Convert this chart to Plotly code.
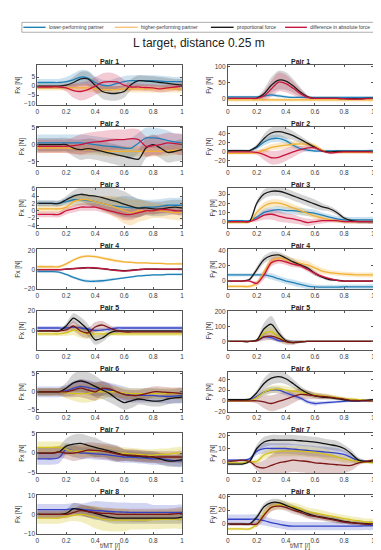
import plotly.graph_objects as go

# ---------------- data ----------------
T = [0, 0.05, 0.1, 0.15, 0.2, 0.25, 0.3, 0.35, 0.4, 0.45, 0.5, 0.55, 0.6, 0.65, 0.7, 0.75, 0.8, 0.85, 0.9, 0.95, 1]
X_TICKS = [0, 0.2, 0.4, 0.6, 0.8, 1]
X_TICKTEXT = ['0', '0.2', '0.4', '0.6', '0.8', '1']
SERIES = ['lower-performing partner', 'higher-performing partner', 'proportional force', 'difference in absolute force']
PAIRS = ['Pair 1', 'Pair 2', 'Pair 3', 'Pair 4', 'Pair 5', 'Pair 6', 'Pair 7', 'Pair 8']
TITLE = 'L target, distance 0.25 m'
X_LABEL = 't/MT [/]'

# Pair 1
fx1_low = [2, 2, 2, 2, 2.5, 3.5, 5, 4.5, 2, 0.5, 0.3, 1.5, 2.5, 3, 3, 3, 3, 2.8, 2.5, 2.5, 2.5]
fx1_low_sd = [2, 2, 2, 2, 2.5, 3.5, 4, 4, 3.5, 3, 3, 3, 3, 3, 3, 3, 3, 3, 3, 2.5, 2.5]
fx1_high = [-1, -1, -1, -1, -1, -1, -1, -1, -1.5, -2, -2, -2, -1.5, -1.5, -1.5, -1.5, -1.5, -1.5, -1.5, -1.5, -1.5]
fx1_high_sd = [1.5, 1.5, 1.5, 1.5, 1.5, 2, 2, 2, 2, 2, 2, 2, 2, 2, 2, 2, 2, 2, 2, 2, 2]
fx1_prop = [0, 0, 0, 0, 0.5, 2, 4, 4, 0.5, -3, -4, -4, -3, 1, 3, 2.8, 2.5, 2, 1.5, 1, 0.5]
fx1_prop_sd = [1.5, 1.5, 1.5, 1.5, 2, 3, 4, 4, 4, 4, 4, 4, 3.5, 3, 3, 3, 3, 3, 3, 3, 3]
fx1_diff = [-0.5, -0.5, -0.5, -0.5, -1, -2.5, -3, -2, 0, 2, 2.5, 2.3, 0.5, -0.5, -0.5, -0.8, -1, -1.5, -1, -0.5, 0]
fx1_diff_sd = [1, 1, 1, 1, 2, 4, 5, 5, 5, 5, 5, 4, 3, 2, 2, 2, 2, 2, 2, 2, 2]

fy1_low = [5, 5, 5, 5, 5, 8, 11, 8, 5, 3, 3, 3, 3, 3, 3, 3, 3, 3, 3, 3, 3]
fy1_low_sd = [3, 3, 3, 3, 3, 4, 5, 5, 4, 3, 3, 3, 3, 3, 3, 3, 3, 3, 3, 3, 3]
fy1_high = [-5, -5, -5, -5, -5, -5, -5, -5, -5, -5, -5, -5, -5, -5, -5, -5, -5, -5, -5, -5, -5]
fy1_high_sd = [5, 5, 5, 5, 5, 5, 5, 5, 5, 5, 5, 5, 5, 5, 5, 5, 5, 5, 5, 5, 5]
fy1_prop = [0, 0, 0, 0, 1, 15, 42, 58, 55, 40, 20, 5, 0, 0, 0, 0, -1, -1, -1, 0, 0]
fy1_prop_sd = [2, 2, 2, 2, 3, 15, 25, 30, 28, 22, 15, 6, 3, 3, 3, 3, 3, 3, 3, 3, 3]
fy1_diff = [0, 0, 0, 0, 0, 8, 30, 52, 47, 32, 15, 3, 0, 0, 0, 0, -1, -2, -2, -1, 0]
fy1_diff_sd = [2, 2, 2, 2, 3, 15, 25, 30, 28, 22, 15, 6, 3, 3, 3, 3, 3, 3, 3, 3, 3]

# Pair 2
fx2_low = [0.5, 0.5, 0.5, 0.5, 0.5, 0.5, 0.5, 0.3, 0, -0.3, -0.5, -0.7, -1, -1, 0.5, 2, 2, 1.8, 1.2, 0.8, 0.5]
fx2_low_sd = [2.5, 2.5, 2.5, 2.5, 2.5, 2.5, 2.5, 2.5, 2.5, 2.5, 2.5, 2.5, 2.5, 3, 3, 3, 3, 3, 3, 2.5, 2.5]
fx2_high = [-1, -1, -1, -1, -1, -1.2, -1.5, -1.5, -1.5, -1.8, -2, -2, -2, -2, -2, -2, -2, -2, -1.8, -1.6, -1.5]
fx2_high_sd = [1.5, 1.5, 1.5, 1.5, 1.5, 1.5, 1.5, 1.5, 1.5, 1.5, 1.5, 1.5, 1.5, 1.5, 1.5, 1.5, 1.5, 1.5, 1.5, 1.5, 1.5]
fx2_prop = [0, 0, 0, 0, 0, -1, -1.5, -1.2, -1.5, -2, -2.5, -3, -3.5, -4, -4.3, -1, 0, -1, -2.3, -2, -1.5]
fx2_prop_sd = [2, 2, 2, 2, 2, 2.5, 3, 3, 3, 3, 3, 3, 3, 3, 3, 3, 3, 3, 3, 3, 3]
fx2_diff = [-0.5, -0.5, -0.5, -0.5, -0.5, -0.3, 0, 0.5, 0.8, 1, 1.3, 1.5, 1.5, 1.8, 1.5, -0.5, -0.3, 0, 0.5, 0.3, 0]
fx2_diff_sd = [2, 2, 2, 2, 2, 2.5, 3, 3, 3, 3, 3, 3, 3, 3, 3, 3, 3, 3, 3, 3, 3]

fy2_low = [3, 3, 3, 3, 10, 22, 29, 30, 25, 15, 7, 4, 2, 2, 2, 2, 2, 2, 2, 2, 2]
fy2_low_sd = [3, 3, 3, 3, 5, 8, 8, 8, 7, 6, 5, 4, 3, 3, 3, 3, 3, 3, 3, 3, 3]
fy2_high = [-3, -3, -3, -3, -2, 4, 10, 13, 15, 17, 18, 17, 13, 4, -1, -1, -1, -1, -1, -1, -1]
fy2_high_sd = [3, 3, 3, 3, 4, 6, 7, 7, 7, 7, 7, 6, 5, 3, 3, 3, 3, 3, 3, 3, 3]
fy2_prop = [3, 3, 3, 3, 12, 30, 42, 45, 42, 36, 28, 19, 10, 2, 0, 1, 1, 1, 1, 1, 1]
fy2_prop_sd = [2, 2, 2, 2, 5, 10, 12, 12, 12, 10, 8, 6, 4, 3, 3, 3, 3, 3, 3, 3, 3]
fy2_diff = [0, 0, 0, 0, -1, -6, -13, -12, -6, 0, 5, 9, 9, 2, -2, -1, 0, 0, 0, 0, 0]
fy2_diff_sd = [2, 2, 2, 2, 5, 12, 15, 15, 14, 12, 8, 6, 4, 3, 3, 3, 3, 3, 3, 3, 3]

# Pair 3
fx3_low = [2, 2, 2, 2, 2.5, 3, 3, 2.8, 2.5, 2, 1.5, 1.2, 1, 0.8, 0.8, 1, 1, 1.2, 1.5, 1.5, 1.5]
fx3_low_sd = [0.8, 0.8, 0.8, 0.8, 1, 1.5, 1.5, 1.5, 1.5, 1.5, 2, 2.5, 3, 3, 2.5, 2, 2, 2, 2, 2, 2]
fx3_high = [0.5, 0.5, 0.5, 0.5, 1, 2.5, 3, 3, 2.5, 2, 1.5, 0.8, 0, -0.5, 0, 0, 0, 0, -0.3, -0.5, -0.5]
fx3_high_sd = [1, 1, 1, 1, 1, 1.5, 1.5, 1.5, 1.5, 2, 2.5, 3, 3.5, 3.5, 3, 2.5, 2, 2, 2, 2, 2]
fx3_prop = [2, 2, 2, 2, 3, 4, 4.5, 4.2, 4, 3.6, 3, 2.5, 1.8, 1.2, 0.7, 0.8, 0.5, 0.5, 0.8, 1, 0.8]
fx3_prop_sd = [0.8, 0.8, 0.8, 0.8, 1, 1.5, 2, 2.5, 3, 3.5, 3.5, 3.5, 3.5, 3, 2.5, 2, 2, 2, 2, 2, 2]
fx3_diff = [-1, -1, -1, -1, 0, 0.5, 1, 1, 1, 0.5, 0, -0.5, -1, -1, -0.5, 0, 0, 0.3, 0.3, 0, 0]
fx3_diff_sd = [0.8, 0.8, 0.8, 0.8, 1, 1, 1, 1, 1, 1, 1, 1.2, 1.5, 1.5, 1.2, 1, 1, 1, 1, 1, 1]

fy3_low = [1, 1, 1, 1, 5, 10, 12, 13, 12, 12, 11, 10, 9, 7, 5, 3, 2, 2, 2, 2, 2]
fy3_low_sd = [1, 1, 1, 1, 3, 4, 4, 4, 4, 4, 4, 4, 4, 3, 3, 3, 3, 3, 3, 3, 3]
fy3_high = [-1, -1, -1, -0.5, 10, 17, 20, 20, 18, 15, 12, 9, 6, 4, 2, 1, 0, 0, 0, 0, 0]
fy3_high_sd = [1, 1, 1, 1, 3, 4, 4, 4, 4, 4, 4, 3, 3, 3, 2, 2, 2, 2, 2, 2, 2]
fy3_prop = [0, 0, 0, 0.5, 20, 30, 33, 33, 31, 28, 25, 22, 19, 16, 14, 10, 4, 1, 0, 0, 0]
fy3_prop_sd = [1, 1, 1, 1, 3, 5, 5, 5, 5, 5, 5, 5, 5, 4, 3, 3, 2, 2, 2, 2, 2]
fy3_diff = [0, 0, 0, 0, 3, 7, 8, 6, 4, 3, 1, -1, 0, 1, 1, 1, 0, 0, 0, 0, 0]
fy3_diff_sd = [1, 1, 1, 1, 3, 5, 6, 6, 5, 5, 4, 4, 3, 3, 2, 2, 2, 2, 2, 2, 2]

# Pair 4
fx4_low = [-2, -2, -2, -2.5, -5, -8, -10.5, -12, -12, -11.5, -10.5, -9.5, -8.5, -7.5, -6.5, -6, -5.5, -5.5, -5, -5, -5]
fx4_low_sd = [1, 1, 1, 1, 1, 1.5, 1.5, 1.5, 1.5, 1.5, 1.5, 1, 1, 1, 1, 1, 1, 1, 1, 1, 1]
fx4_high = [3, 3, 3, 3, 6, 10, 13, 14, 13.5, 12, 10.5, 9, 8, 7.5, 7, 7, 6.5, 6.5, 6, 6, 6]
fx4_high_sd = [1.5, 1.5, 1.5, 1.5, 1.5, 1.5, 1.5, 1.5, 1.5, 1.5, 1.5, 1.5, 1, 1, 1, 1, 1, 1, 1, 1, 1]
fx4_prop = [0, 0, 0, 0, 0.5, 1, 1.5, 2, 1.5, 1, 0, -0.5, -1, -0.5, 0, 0.5, 0.5, 0.3, 0.3, 0.3, 0.5]
fx4_prop_sd = [1, 1, 1, 1, 1, 1, 1, 1, 1, 1, 1, 1, 1, 1, 1, 1, 1, 1, 1, 1, 1]
fx4_diff = [0, 0, 0, 0, 0.5, 1, 1.5, 2, 1.8, 1, 0, -1, -1.5, -1, 0, 0.5, 0.5, 0.5, 0.5, 0.5, 0.5]
fx4_diff_sd = [1, 1, 1, 1, 1, 1, 1, 1, 1, 1, 1, 1, 1, 1, 1, 1, 1, 1, 1, 1, 1]

fy4_low = [8, 8, 8, 8, 8, 8, 6, 3, 0, -2, -4.5, -6.5, -7.5, -8, -8, -8, -7.5, -7.5, -7.5, -7.5, -7.5]
fy4_low_sd = [2, 2, 2, 2, 2, 3, 4, 4, 4, 4, 4, 4, 3, 3, 3, 3, 3, 3, 3, 3, 3]
fy4_high = [-7, -7, -7, -7, -3, 12, 26, 30, 28, 25, 23, 21, 17, 13, 11, 10, 9, 8.5, 8, 8, 8]
fy4_high_sd = [2, 2, 2, 2, 3, 4, 5, 5, 5, 5, 5, 5, 4, 4, 3, 3, 3, 3, 3, 3, 3]
fy4_prop = [0, 0, 0, 2, 15, 28, 33, 34, 30, 25, 21, 17, 10, 5, 2, 1, 0, 0, 0, 0, 0]
fy4_prop_sd = [1, 1, 1, 2, 4, 5, 5, 4, 4, 4, 3, 3, 3, 2, 2, 1, 1, 1, 1, 1, 1]
fy4_diff = [0, 0, 0, 0, -3, 8, 24, 27, 25, 22, 20, 15, 10, 6, 3, 1, 0, 0, 0, 0, 0]
fy4_diff_sd = [1, 1, 1, 1, 3, 6, 5, 4, 4, 4, 3, 3, 3, 2, 2, 1, 1, 1, 1, 1, 1]

# Pair 5
fx5_low = [3, 3, 3, 3, 3, 4, 3, 2, 0.5, 1, 2, 3, 3, 3, 3, 3, 3, 3, 3, 3, 3]
fx5_low_sd = [2, 2, 2, 2, 2, 2, 2, 2, 2, 2, 2, 2, 2, 2, 2, 2, 2, 2, 2, 2, 2]
fx5_high = [-3, -3, -3, -3, -2, 1, -1, -3, -3, -3, -3, -3, -3, -3, -3, -3, -3, -3, -3, -3, -3]
fx5_high_sd = [2, 2, 2, 2, 3, 5, 6, 5, 4, 3, 2, 2, 2, 2, 2, 2, 2, 2, 2, 2, 2]
fx5_prop = [0, 0, 0, 0, 5, 13, 8, 1, -9, -7, -2, 0, 0, 0, 0, 0, 0, 0, 0, 0, 0]
fx5_prop_sd = [1, 1, 1, 1, 3, 5, 6, 6, 5, 4, 3, 2, 1, 1, 1, 1, 1, 1, 1, 1, 1]
fx5_diff = [0, 0, 0, 0, 1, 5, 0, -2, 4, 6, 3, 0, -1, -1, -1, -1, -1, -1, -1, -1, -1]
fx5_diff_sd = [1, 1, 1, 1, 3, 5, 5, 5, 5, 4, 3, 2, 1, 1, 1, 1, 1, 1, 1, 1, 1]

fy5_low = [0, 0, 0, 0, 5, 30, 25, 5, 0, 0, 0, 0, 0, 0, 0, 0, 0, 0, 0, 0, 0]
fy5_low_sd = [2, 2, 2, 2, 5, 15, 15, 8, 4, 3, 2, 2, 2, 2, 2, 2, 2, 2, 2, 2, 2]
fy5_high = [0, 0, 0, 0, 8, 55, 65, 30, 0, -5, 0, 0, 0, 0, 0, 0, 0, 0, 0, 0, 0]
fy5_high_sd = [2, 2, 2, 2, 8, 30, 35, 25, 15, 10, 5, 3, 2, 2, 2, 2, 2, 2, 2, 2, 2]
fy5_prop = [0, 0, 0, 0, 10, 85, 115, 55, 5, -8, -3, 0, 0, 0, 0, 0, 0, 0, 0, 0, 0]
fy5_prop_sd = [2, 2, 2, 2, 10, 40, 55, 35, 15, 10, 5, 3, 2, 2, 2, 2, 2, 2, 2, 2, 2]
fy5_diff = [0, 0, 0, 0, 5, 30, 35, 20, -2, -8, -3, 0, 0, 0, 0, 0, 0, 0, 0, 0, 0]
fy5_diff_sd = [2, 2, 2, 2, 8, 25, 25, 25, 20, 15, 8, 3, 2, 2, 2, 2, 2, 2, 2, 2, 2]

# Pair 6
fx6_low = [0, 0, 0, 0, 0.3, 1, 1.5, 1.2, 0.8, 0.8, 0.5, 0, -0.5, -1, -1, -1, -1, -1.2, -1.3, -1.2, -1]
fx6_low_sd = [1.5, 1.5, 1.5, 1.5, 1.5, 2, 2, 2, 2, 2, 2, 2, 2, 2, 2, 2, 2, 2, 2, 2, 2]
fx6_high = [0, 0, 0, 0, -0.3, -0.5, -0.5, -0.5, 0, 0, 0, 0, -0.3, -0.5, -0.5, -0.5, -0.5, -0.5, -0.5, -0.5, -0.5]
fx6_high_sd = [1, 1, 1, 1, 1.5, 2, 2.5, 2.5, 2.5, 2, 1.5, 1.5, 1.5, 1.5, 1.5, 1.5, 1.5, 1.5, 1.5, 1.5, 1.5]
fx6_prop = [0, 0, 0, 0, 1, 2.5, 3, 2.5, 1.5, 0.5, -0.5, -2, -3, -2.5, -2, -2.3, -2.6, -2.5, -2, -1.7, -1.5]
fx6_prop_sd = [1, 1, 1, 1, 1.5, 2.5, 3, 3, 3, 2.5, 2.5, 2, 2, 2, 1.5, 1.5, 1.5, 1.5, 1.5, 1.5, 1.5]
fx6_diff = [0, 0, 0, 0, 0, 0.5, 1, 0.5, 0, 1, 0.8, 0, -0.8, -1, -1, -0.5, 0, 0, -0.2, -0.3, -0.5]
fx6_diff_sd = [1, 1, 1, 1, 1.5, 2, 2.5, 2.5, 2.5, 2, 1.5, 1.5, 1.5, 1.5, 1.5, 1.5, 1.5, 1.5, 1.5, 1.5, 1.5]

fy6_low = [2, 2, 2, 2, 8, 16, 20, 20, 15, 10, 5, -2, -5, -4, -3, -2, -1, 0, 0, 0.5, 1]
fy6_low_sd = [2, 2, 2, 2, 4, 6, 6, 6, 5, 5, 4, 4, 4, 3, 3, 2, 2, 2, 2, 2, 2]
fy6_high = [0, 0, 0, 0, 6, 16, 21, 22, 20, 18, 16, 13, 11, 9, 8, 6, 4, 3, 2, 1, 0]
fy6_high_sd = [2, 2, 2, 2, 4, 6, 7, 7, 7, 7, 6, 6, 5, 5, 4, 4, 3, 3, 2, 2, 2]
fy6_prop = [2, 2, 2, 3, 15, 32, 42, 45, 41, 32, 22, 14, 9, 7, 6, 4, 2, 0, 0, 1, 2]
fy6_prop_sd = [2, 2, 2, 2, 5, 10, 12, 12, 10, 8, 6, 5, 4, 4, 3, 3, 3, 2, 2, 2, 2]
fy6_diff = [0, 0, 0, 0, 0, -2, -5, -1, 3, 8, 12, 11, 9, 8, 7, 5, 3, 1, 0.5, 0, 0]
fy6_diff_sd = [2, 2, 2, 2, 5, 12, 15, 15, 14, 12, 10, 8, 6, 5, 4, 3, 3, 2, 2, 2, 2]

# Pair 7
fx7_low = [-1.5, -1.5, -1.5, -1.2, 1, 0.5, 0, 0, -0.2, -0.3, -0.5, -0.8, -1, -1, -1.2, -1.3, -1.5, -1.5, -1.7, -2, -2]
fx7_low_sd = [1.5, 1.5, 1.5, 1.5, 1.5, 1.5, 1.5, 1.5, 1.5, 1.5, 1.5, 1.5, 1.5, 1.5, 1.5, 1.5, 1.5, 1.5, 1.5, 1.5, 1.5]
fx7_high = [1.5, 1.5, 1.5, 1.5, 1, 0.5, 0.5, 0.5, 0.5, 0.5, 0.3, 0, 0, -0.2, -0.3, -0.5, -0.5, -0.3, -0.3, 0, 0]
fx7_high_sd = [1.5, 1.5, 1.5, 1.5, 1.5, 1.5, 1.5, 1.5, 1.5, 1.5, 1.5, 1.5, 1.5, 1.5, 1.5, 1.5, 1.5, 1.5, 1.5, 1.5, 1.5]
fx7_prop = [0, 0, 0, 0.3, 1.8, 2.3, 2.5, 2, 1.5, 1, 0.5, 0, -0.5, -0.7, -0.8, -1, -1, -1.5, -2, -2, -1.7]
fx7_prop_sd = [1.5, 1.5, 1.5, 1.5, 2, 2.5, 2.5, 2.5, 2.5, 2, 2, 2, 1.5, 1.5, 1.5, 1.5, 1.5, 1.5, 1.5, 1.5, 1.5]
fx7_diff = [0, 0, 0, 0.3, 0, 0, 0.3, 0.8, 0.7, 0.5, 0.2, -0.2, -0.5, -0.5, -0.7, -0.8, -1, -1, -1, -1, -1]
fx7_diff_sd = [1.5, 1.5, 1.5, 1.5, 1.5, 2, 2, 2, 2, 2, 2, 2, 1.5, 1.5, 1.5, 1.5, 1.5, 1.5, 1.5, 1.5, 1.5]

fy7_low = [1, 1, 1, 2, 8, 10, 10, 10, 10, 9.5, 9, 8.5, 8, 7.5, 7, 6.5, 5.5, 3, 0.5, 0, 0]
fy7_low_sd = [1, 1, 1, 1, 3, 4, 4, 4, 4, 4, 4, 4, 4, 4, 4, 4, 3, 3, 2, 1, 1]
fy7_high = [-1, -1, -1, 0, 0, 5, 7, 8, 8, 8, 8, 7.5, 7, 6, 5, 3.5, 2, 1, 0, -0.5, -1]
fy7_high_sd = [1, 1, 1, 1, 2, 3, 4, 4, 4, 4, 4, 4, 4, 4, 4, 3, 3, 2, 2, 1, 1]
fy7_prop = [-2, -2, -2, 0, 10, 15, 16.5, 16.5, 16.5, 16.5, 16, 15.5, 15, 14, 13, 12, 10, 6, 1, 0, 0]
fy7_prop_sd = [1, 1, 1, 1, 3, 4, 4, 4, 4, 4, 4, 4, 4, 4, 4, 4, 3, 3, 2, 1, 1]
fy7_diff = [0, 0.5, 1, 0, -4, -5, -3, -1, 0, 1, 0.5, 0, -1, -1.5, -2, -2.5, -3, -3, -1, 0, 1]
fy7_diff_sd = [1, 1, 1, 1, 3, 6, 8, 9, 9, 9, 9, 9, 9, 8, 8, 7, 6, 4, 2, 1, 1]

# Pair 8
fx8_low = [2.5, 2.5, 2.5, 2.5, 2.5, 3, 2.7, 2.3, 2, 1.8, 1.5, 1.3, 1.2, 1, 1, 1, 1, 1, 1, 1, 1]
fx8_low_sd = [3, 3, 3, 3, 3, 3, 3, 4, 5, 5, 5, 5, 5, 5, 5, 5, 4, 4, 4, 4, 4]
fx8_high = [-2, -2, -2, -2, -1, -0.5, 0, -0.5, -1.5, -2.5, -3, -3, -3, -3, -3, -3, -2.8, -2.7, -2.6, -2.5, -2.5]
fx8_high_sd = [3, 3, 3, 3, 3, 3, 4, 5, 6, 6, 6, 6, 6, 5, 5, 5, 5, 5, 5, 5, 5]
fx8_prop = [0, 0, 0, 0, 0.5, 3, 2.5, 1.5, 0.5, -0.5, -1.5, -2, -2, -2, -2, -2, -2, -2, -2, -2, -1.5]
fx8_prop_sd = [2, 2, 2, 2, 2, 3, 3, 3, 3, 3, 3, 3, 3, 3, 3, 3, 3, 3, 3, 3, 3]
fx8_diff = [0, 0, 0, 0, 0, 1, 2, 1.5, 1, 0.5, 0.5, 0, 0, 0, 0, 0, 0, 0, 0, 0.3, 0.5]
fx8_diff_sd = [2, 2, 2, 2, 2, 2, 3, 3, 3, 3, 3, 3, 3, 3, 3, 3, 3, 3, 3, 3, 3]

fy8_low = [7, 7, 7, 7, 7, 5, 2, 0, -2, -3, -3, -3, -3, -3, -3, -3, -3, -3, -3, -2.5, -2]
fy8_low_sd = [7, 7, 7, 7, 7, 7, 6, 6, 6, 6, 6, 6, 6, 6, 6, 6, 6, 6, 6, 6, 6]
fy8_high = [-7, -7, -7, -7, 0, 15, 25, 28, 27, 25, 22, 18, 16, 14, 12, 10, 8, 6, 5, 3, 2]
fy8_high_sd = [2, 2, 2, 2, 4, 6, 6, 6, 6, 6, 6, 6, 6, 6, 5, 5, 5, 5, 5, 5, 5]
fy8_prop = [0, 0, 0, 0, 10, 25, 31, 31, 27, 23, 19, 15, 12, 10, 8, 6, 4, 2, 1, 0.5, 0]
fy8_prop_sd = [2, 2, 2, 2, 4, 5, 5, 5, 5, 5, 5, 5, 5, 4, 4, 4, 3, 3, 3, 3, 3]
fy8_diff = [0, 0, 0, 0, 0, 13, 24, 26, 24, 20, 17, 13, 11, 9, 7, 5, 3, 2, 1, 0, 0]
fy8_diff_sd = [2, 2, 2, 2, 4, 7, 6, 5, 5, 5, 5, 5, 5, 4, 4, 4, 3, 3, 3, 3, 3]

# y-axis tick values for each panel
FX_TICKS = [[-10, -5, 0, 5], [-5, 0, 5], [-4, -2, 0, 2, 4, 6], [-20, 0, 20],
            [-20, 0, 20], [-5, 0, 5], [-5, 0, 5], [-10, 0, 10]]
FY_TICKS = [[0, 50, 100], [-20, 0, 20, 40], [0, 10, 20, 30], [0, 20, 40],
            [0, 100, 200], [-20, 0, 20, 40], [0, 10, 20], [0, 20, 40]]

# ---------------- styling / layout ----------------
FX_RANGES = [[-10.5, 11.5], [-6.4, 5.3], [-4.6, 6.2], [-20, 21],
             [-19.5, 20.5], [-5.5, 5.5], [-5.1, 5.1], [-10.5, 10.4]]
FY_RANGES = [[-21, 105], [-32, 56], [-6.5, 36.5], [-10.3, 41.3],
             [-59, 206], [-20, 53.5], [-8.8, 21.7], [-14.6, 42.4]]

W, H = 381, 550
FONT = 'Liberation Sans, Arial, Helvetica, sans-serif'
COL_X = [(27.5, 174.0), (220.0, 367.0)]
ROW_TOP0, ROW_PITCH, ROW_H = 55.0, 62.0, 40.0

COLORS_TOP = ['#1f7fb8', '#f2b035', '#1a1a1a', '#c8143c']
COLORS_BOT = ['#3442c6', '#d4c21c', '#111111', '#7a1616']
BAND_ALPHA = [0.22, 0.28, 0.18, 0.22]
AXC = '#555555'
TXT = '#3a3a3a'


def rgba(hexc, a):
    h = hexc.lstrip('#')
    return 'rgba(%d,%d,%d,%.2f)' % (int(h[0:2], 16), int(h[2:4], 16), int(h[4:6], 16), a)


def px(x):
    return x / W


def py(y):
    return 1 - y / H


fig = go.Figure()
layout = {}
annotations = []
shapes = []

keys = ['low', 'high', 'prop', 'diff']
g = globals()
k = 0
for i in range(8):
    top = ROW_TOP0 + ROW_PITCH * i
    bot = top + ROW_H
    cols = COLORS_TOP if i < 4 else COLORS_BOT
    for c, comp in enumerate(['fx', 'fy']):
        k += 1
        xa = 'x' if k == 1 else 'x%d' % k
        ya = 'y' if k == 1 else 'y%d' % k
        means = [g['%s%d_%s' % (comp, i + 1, s)] for s in keys]
        sds = [g['%s%d_%s_sd' % (comp, i + 1, s)] for s in keys]
        # bands
        for s in range(4):
            up = [m + d for m, d in zip(means[s], sds[s])]
            lo = [m - d for m, d in zip(means[s], sds[s])]
            fig.add_trace(go.Scatter(
                x=T + T[::-1], y=up + lo[::-1], fill='toself', mode='lines',
                line=dict(width=0, shape='spline', smoothing=0.8),
                fillcolor=rgba(cols[s], BAND_ALPHA[s]), hoverinfo='skip',
                showlegend=False, xaxis=xa, yaxis=ya))
        # mean lines
        for s in range(4):
            fig.add_trace(go.Scatter(
                x=T, y=means[s], mode='lines', name=SERIES[s],
                line=dict(color=cols[s], width=1.3, shape='spline', smoothing=0.8),
                showlegend=False, xaxis=xa, yaxis=ya))

        x0, x1 = COL_X[c]
        axcommon = dict(showline=True, linecolor=AXC, linewidth=0.7, mirror='ticks',
                        ticks='inside', ticklen=2, tickwidth=0.6, tickcolor=AXC,
                        showgrid=False, zeroline=False,
                        tickfont=dict(family=FONT, size=6.5, color=TXT))
        layout['xaxis' if k == 1 else 'xaxis%d' % k] = dict(
            domain=[px(x0), px(x1)], anchor=ya, range=[0, 1],
            tickvals=X_TICKS, ticktext=X_TICKTEXT, **axcommon)
        yr = FX_RANGES[i] if comp == 'fx' else FY_RANGES[i]
        yt = FX_TICKS[i] if comp == 'fx' else FY_TICKS[i]
        layout['yaxis' if k == 1 else 'yaxis%d' % k] = dict(
            domain=[py(bot), py(top)], anchor=xa, range=yr, tickvals=yt,
            title=dict(text='Fx [N]' if comp == 'fx' else 'Fy [N]', standoff=2,
                       font=dict(family=FONT, size=6.5, color=TXT)),
            **axcommon)
        annotations.append(dict(text='<b>%s</b>' % PAIRS[i], xref='paper', yref='paper',
                                x=px((x0 + x1) / 2), y=py(top - 3.5), xanchor='center',
                                yanchor='middle', showarrow=False,
                                font=dict(family=FONT, size=7, color='#222')))
        if i == 7:
            annotations.append(dict(text=X_LABEL, xref='paper', yref='paper',
                                    x=px((x0 + x1) / 2), y=py(541), xanchor='center',
                                    yanchor='middle', showarrow=False,
                                    font=dict(family=FONT, size=6.5, color=TXT)))

# main title
annotations.append(dict(text=TITLE, xref='paper', yref='paper', x=px(190.5), y=py(32),
                        xanchor='center', yanchor='middle', showarrow=False,
                        font=dict(family=FONT, size=12, color='#222')))

# legend (drawn manually as a boxed row)
LEG_Y = 16.5
shapes.append(dict(type='rect', xref='paper', yref='paper', x0=px(12), x1=px(377),
                   y0=py(11.5), y1=py(21.5), line=dict(color='#777', width=0.6),
                   fillcolor='white'))
LEG_LINE_X = [(13.5, 36), (106, 129), (203, 226), (278, 300)]
for s in range(4):
    a, b = LEG_LINE_X[s]
    shapes.append(dict(type='line', xref='paper', yref='paper', x0=px(a), x1=px(b),
                       y0=py(LEG_Y), y1=py(LEG_Y),
                       line=dict(color=COLORS_TOP[s] if s != 1 else '#f7c27a', width=1.4)))
    annotations.append(dict(text=SERIES[s], xref='paper', yref='paper', x=px(b + 1.5),
                            y=py(LEG_Y), xanchor='left', yanchor='middle', showarrow=False,
                            font=dict(family=FONT, size=5, color=TXT)))

fig.update_layout(width=W, height=H, margin=dict(l=0, r=0, t=0, b=0),
                  paper_bgcolor='white', plot_bgcolor='white',
                  annotations=annotations, shapes=shapes, showlegend=False,
                  **layout)

fig.write_html('out.html')
